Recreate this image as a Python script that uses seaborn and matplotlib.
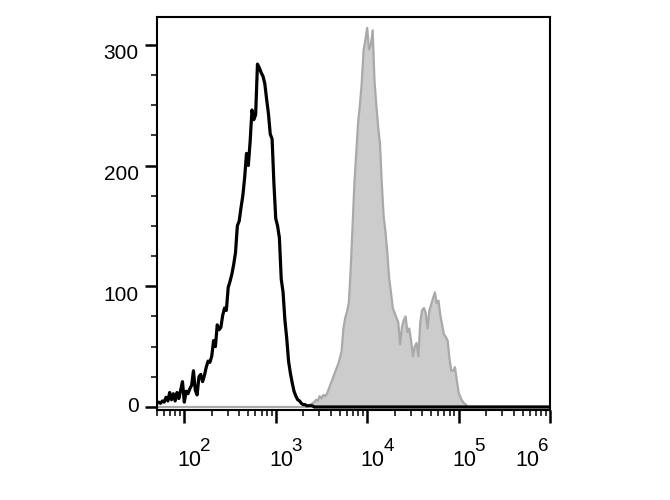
import numpy as np
import matplotlib
matplotlib.use("Agg")
import matplotlib.pyplot as plt
import matplotlib.transforms as mtransforms
import seaborn as sns
from matplotlib.ticker import LogLocator, MultipleLocator, FixedLocator, NullFormatter

controle_log = [1.70, 1.72, 1.74, 1.76, 1.78, 1.80, 1.82, 1.84, 1.86, 1.88,
                1.90, 1.92, 1.94, 1.96, 1.98, 2.00, 2.02, 2.04, 2.06, 2.08,
                2.10, 2.12, 2.14, 2.16, 2.18, 2.20, 2.22, 2.24, 2.26, 2.28,
                2.30, 2.32, 2.34, 2.36, 2.38, 2.40, 2.42, 2.44, 2.46, 2.48,
                2.50, 2.52, 2.54, 2.56, 2.58, 2.60, 2.62, 2.64, 2.66, 2.68,
                2.70, 2.72, 2.74, 2.76, 2.78, 2.80, 2.82, 2.84, 2.86, 2.88,
                2.90, 2.92, 2.94, 2.96, 2.98, 3.00, 3.02, 3.04, 3.06, 3.08,
                3.10, 3.12, 3.14, 3.16, 3.18, 3.20, 3.22, 3.24, 3.26, 3.28,
                3.30, 3.32, 3.34, 3.36, 3.38, 3.40, 3.42, 6.00]
controle_cont = [3, 4, 3, 5, 4, 8, 5, 12, 6, 11,
                 5, 12, 7, 14, 21, 4, 13, 11, 15, 18,
                 30, 14, 10, 25, 27, 21, 26, 33, 38, 37,
                 42, 55, 50, 68, 64, 66, 76, 82, 80, 99,
                 104, 110, 118, 128, 150, 154, 165, 175, 190, 210,
                 200, 220, 246, 238, 242, 284, 281, 277, 274, 268,
                 255, 243, 226, 222, 185, 156, 150, 140, 106, 95,
                 72, 57, 38, 28, 20, 13, 9, 6, 5, 3,
                 2, 2, 1, 1, 1, 1, 0, 0]

marcado_log = [1.70, 3.30, 3.32, 3.34, 3.36, 3.38, 3.40, 3.42, 3.44, 3.46, 3.48,
               3.50, 3.52, 3.54, 3.56, 3.58, 3.60, 3.62, 3.64, 3.66, 3.68,
               3.70, 3.72, 3.74, 3.76, 3.78, 3.80, 3.82, 3.84, 3.86, 3.88,
               3.90, 3.92, 3.94, 3.96, 3.98, 4.00, 4.02, 4.04, 4.06, 4.08,
               4.10, 4.12, 4.14, 4.16, 4.18, 4.20, 4.22, 4.24, 4.26, 4.28,
               4.30, 4.32, 4.34, 4.36, 4.38, 4.40, 4.42, 4.44, 4.46, 4.48,
               4.50, 4.52, 4.54, 4.56, 4.58, 4.60, 4.62, 4.64, 4.66, 4.68,
               4.70, 4.72, 4.74, 4.76, 4.78, 4.80, 4.82, 4.84, 4.86, 4.88,
               4.90, 4.92, 4.94, 4.96, 4.98, 5.00, 5.02, 5.04, 5.06, 5.08,
               5.10, 6.00]
marcado_cont = [0, 0, 0, 0, 1, 2, 3, 4, 6, 5, 9,
                7, 10, 9, 11, 15, 19, 23, 27, 31, 35,
                40, 46, 65, 74, 79, 87, 115, 150, 185, 210,
                235, 250, 268, 295, 304, 314, 296, 300, 312, 270,
                250, 232, 218, 185, 158, 145, 128, 107, 95, 82,
                78, 74, 70, 52, 66, 72, 75, 62, 65, 55,
                42, 50, 53, 42, 70, 80, 82, 78, 65, 80,
                85, 90, 95, 86, 88, 76, 68, 60, 58, 55,
                40, 30, 30, 33, 22, 12, 8, 5, 3, 2,
                0, 0]

ticks_y = [0, 100, 200, 300]
ticks_x = [1e2, 1e3, 1e4, 1e5, 1e6]
expoentes_x = ["2", "3", "4", "5", "6"]

sns.set_style("ticks")
plt.rcParams['font.family'] = ['Liberation Sans', 'DejaVu Sans']
plt.rcParams['text.color'] = 'black'

fig = plt.figure(figsize=(6.7, 5), dpi=100)
ax = fig.add_axes([0.234, 0.18, 0.587, 0.786])

x_marcado = np.power(10.0, marcado_log)
x_controle = np.power(10.0, controle_log)

ax.fill_between(x_marcado, marcado_cont, 0, color="#cccccc", linewidth=0, zorder=1)
sns.lineplot(x=x_marcado, y=marcado_cont, ax=ax, color="#a9a9a9", linewidth=1.6,
             sort=False, estimator=None, zorder=2)
sns.lineplot(x=x_controle, y=controle_cont, ax=ax, color="black", linewidth=2.3,
             sort=False, estimator=None, zorder=3)

ax.set_xscale("log")
ax.set_xlim(50, 1e6)
ax.set_ylim(-2.5, 323)

ax.xaxis.set_major_locator(FixedLocator(ticks_x))
ax.set_xticklabels([""] * len(ticks_x))
ax.xaxis.set_minor_locator(LogLocator(base=10, subs=np.arange(2, 10), numticks=20))
ax.xaxis.set_minor_formatter(NullFormatter())
ax.set_yticks(ticks_y)
ax.yaxis.set_minor_locator(MultipleLocator(25))

ax.tick_params(axis="both", which="major", direction="out", length=9, width=1.8,
               labelsize=15, colors="black")
ax.tick_params(axis="both", which="minor", direction="out", length=4.5, width=1.3)
ax.tick_params(axis="y", which="major", pad=4)

# no original os rotulos de y ficam um pouco abaixo do traco (o 0 sobe um pouco)
for v, lab in zip(ticks_y, ax.get_yticklabels()):
    dy = 2 / 72 if v == 0 else -5 / 72
    lab.set_transform(lab.get_transform() + mtransforms.ScaledTranslation(0, dy, fig.dpi_scale_trans))

# rotulos 10^n: base e expoente em tamanhos proximos, como no original
trans = ax.get_xaxis_transform()
for i, (t, e) in enumerate(zip(ticks_x, expoentes_x)):
    dx = -20 if i == len(ticks_x) - 1 else 0
    ax.annotate("10", xy=(t, 0), xycoords=trans, xytext=(dx + 4, -29),
                textcoords="offset points", ha="center", va="top", fontsize=15.5)
    ax.annotate(e, xy=(t, 0), xycoords=trans, xytext=(dx + 11.5, -20.5),
                textcoords="offset points", ha="left", va="top", fontsize=13.5)

for lado in ax.spines.values():
    lado.set_linewidth(1.5)
    lado.set_color("black")

ax.set_xlabel("")
ax.set_ylabel("")

fig.savefig("out.png", dpi=100)
